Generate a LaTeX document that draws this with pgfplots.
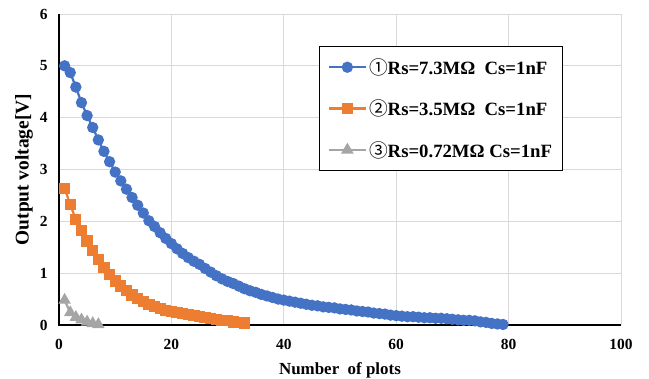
\documentclass[border=0pt]{standalone}
\usepackage{fontspec}
\setmainfont{Liberation Serif}
\newfontfamily\cjk{Noto Sans CJK JP}
\usepackage{pgfplots}
\pgfplotsset{compat=1.18}
\definecolor{xblue}{HTML}{4472C4}
\definecolor{xorange}{HTML}{ED7D31}
\definecolor{xgray}{HTML}{A5A5A5}
\definecolor{xgrid}{HTML}{D9D9D9}
\begin{document}
\begin{tikzpicture}
\begin{axis}[
  scale only axis,
  width=562bp, height=311bp,
  xmin=0, xmax=100, ymin=0, ymax=6,
  xtick={0,20,...,100}, ytick={0,1,...,6},
  major tick length=0pt,
  grid=major,
  grid style={xgrid, line width=0.9bp},
  axis line style={draw=none},
  tick label style={font=\fontsize{15.5}{16}\selectfont\bfseries},
  /pgf/number format/assume math mode=true,
  xticklabel style={yshift=-11bp},
  yticklabel style={xshift=-8bp},
  xlabel={Number\ \ of plots},
  ylabel={Output voltage[V]},
  xlabel style={font=\fontsize{17}{18}\selectfont\bfseries, yshift=-6bp},
  ylabel style={font=\fontsize{19.5}{20}\selectfont\bfseries, yshift=0bp},
  legend style={at={(0.463,0.897)}, anchor=north west, draw=black, line width=1.1bp,
    font=\fontsize{18.8}{19}\selectfont\bfseries, row sep=20bp, inner xsep=8bp, inner ysep=10bp,
    cells={anchor=west}},
  legend image code/.code={\draw[mark repeat=2,mark phase=2,line width=2.25bp] plot coordinates {(0bp,0bp)(18.5bp,0bp)(37bp,0bp)};},
  clip=false,
]
\draw[black, line width=1.4bp] (rel axis cs:0,1) -- (rel axis cs:0,0) -- (rel axis cs:1,0);
\coordinate (sw) at (rel axis cs:0,0);
\coordinate (ne) at (rel axis cs:1,1);
\addplot[xblue, line width=2.25bp, mark=*, mark size=4.5bp, mark options={solid}] coordinates {
(1,5.00)(2,4.87)(3,4.59)(4,4.29)(5,4.04)(6,3.81)(7,3.57)(8,3.35)(9,3.15)(10,2.95)
(11,2.78)(12,2.62)(13,2.46)(14,2.31)(15,2.16)(16,2.01)(17,1.90)(18,1.78)(19,1.67)(20,1.57)
(21,1.47)(22,1.38)(23,1.30)(24,1.23)(25,1.17)(26,1.09)(27,1.02)(28,0.95)(29,0.89)(30,0.84)
(31,0.80)(32,0.75)(33,0.70)(34,0.66)(35,0.63)(36,0.59)(37,0.56)(38,0.53)(39,0.50)(40,0.48)
(41,0.46)(42,0.44)(43,0.42)(44,0.40)(45,0.38)(46,0.37)(47,0.35)(48,0.34)(49,0.33)(50,0.31)
(51,0.30)(52,0.29)(53,0.27)(54,0.26)(55,0.25)(56,0.23)(57,0.22)(58,0.21)(59,0.19)(60,0.18)
(61,0.17)(62,0.16)(63,0.16)(64,0.15)(65,0.14)(66,0.14)(67,0.13)(68,0.13)(69,0.12)(70,0.11)
(71,0.10)(72,0.09)(73,0.09)(74,0.08)(75,0.06)(76,0.05)(77,0.03)(78,0.02)(79,0.01)
};
\addlegendentry{{\cjk\mdseries ①}Rs=7.3MΩ\ \ Cs=1nF}
\addplot[xorange, line width=2.25bp, mark=square*, mark size=4.5bp, mark options={solid}] coordinates {
(1,2.64)(2,2.32)(3,2.04)(4,1.83)(5,1.62)(6,1.43)(7,1.26)(8,1.11)(9,0.97)(10,0.85)
(11,0.75)(12,0.66)(13,0.58)(14,0.51)(15,0.45)(16,0.40)(17,0.35)(18,0.32)(19,0.28)(20,0.26)
(21,0.24)(22,0.22)(23,0.20)(24,0.18)(25,0.16)(26,0.14)(27,0.12)(28,0.11)(29,0.09)(30,0.08)
(31,0.06)(32,0.05)(33,0.04)
};
\addlegendentry{{\cjk\mdseries ②}Rs=3.5MΩ\ \ Cs=1nF}
\addplot[xgray, line width=2.25bp, mark=triangle*, mark size=5bp, mark options={solid}] coordinates {
(1,0.48)(2,0.24)(3,0.15)(4,0.10)(5,0.06)(6,0.03)(7,0.01)
};
\addlegendentry{{\cjk\mdseries ③}Rs=0.72MΩ Cs=1nF}
\end{axis}
\pgfresetboundingbox
\path ([shift={(-59bp,-54bp)}]sw) rectangle ([shift={(28bp,14bp)}]ne);
\end{tikzpicture}
\end{document}
